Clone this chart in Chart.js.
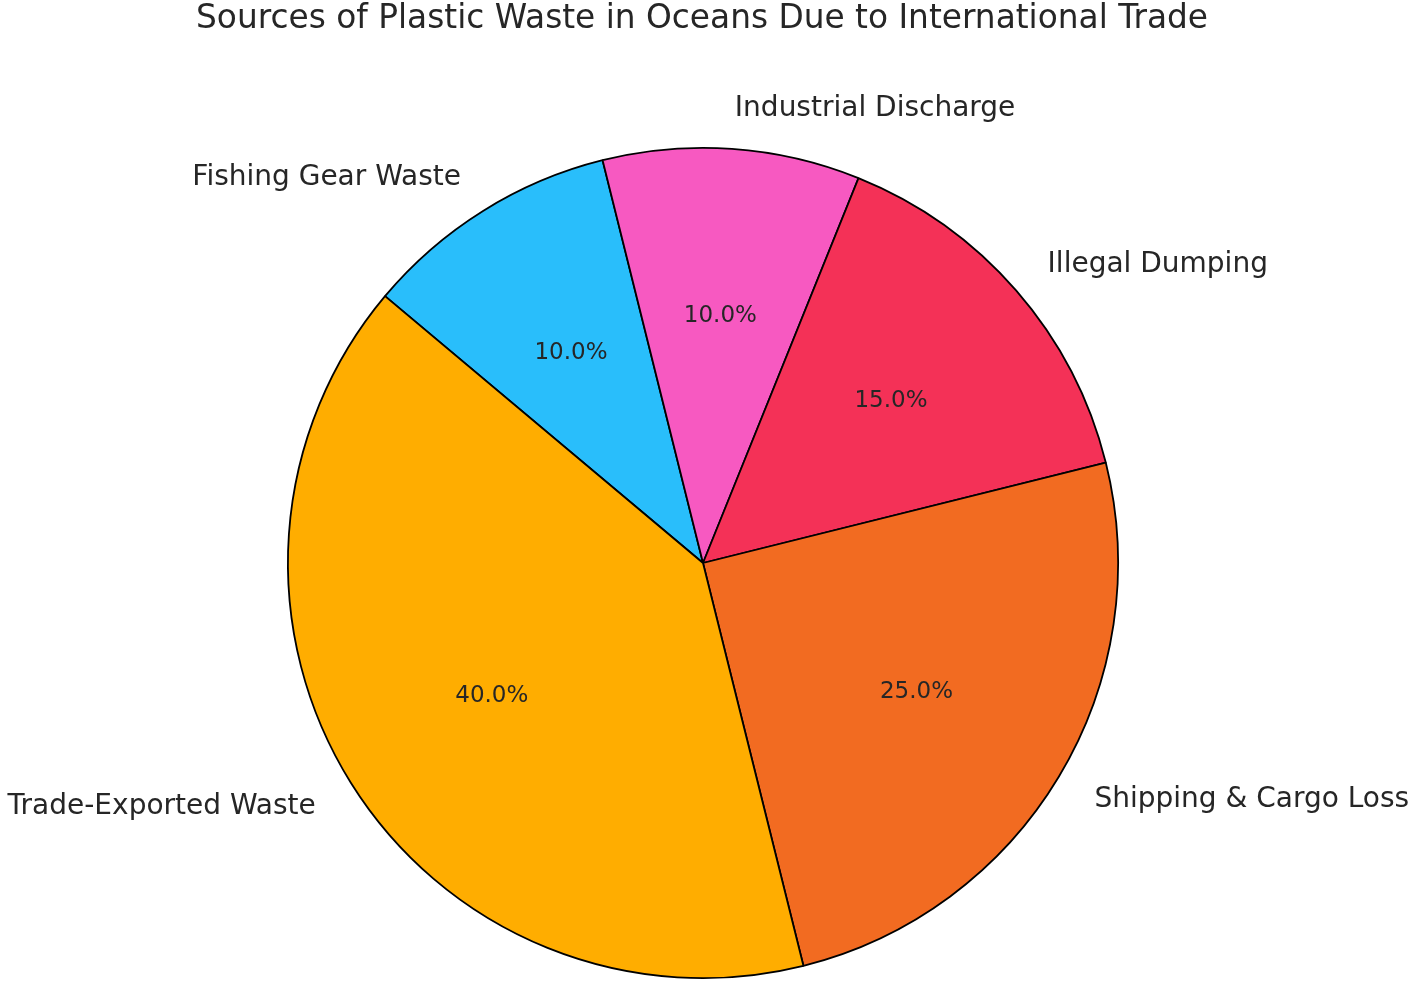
<!DOCTYPE html>
<html>
<head>
<meta charset="utf-8">
<script src="https://cdn.jsdelivr.net/npm/chart.js@4/dist/chart.umd.min.js"></script>
<style>
html,body{margin:0;padding:0;background:#fff;}
canvas{display:block;}
</style>
</head>
<body>
<canvas id="c" width="1417" height="987"></canvas>
<script>
// Categories in clockwise drawing order (starting at the Fishing/Trade boundary)
const categories = ['Fishing Gear Waste', 'Industrial Discharge', 'Illegal Dumping', 'Shipping & Cargo Loss', 'Trade-Exported Waste'];
const shares = [10, 10, 15, 25, 40];
const colors = ['#29BEFB', '#F759C1', '#F43157', '#F26B21', '#FFAD00'];
const chartTitle = 'Sources of Plastic Waste in Oceans Due to International Trade';

const labelPlugin = {
  id: 'pieLabels',
  afterDatasetsDraw(chart) {
    const ctx = chart.ctx;
    const meta = chart.getDatasetMeta(0);
    const total = shares.reduce((a, b) => a + b, 0);
    ctx.save();
    meta.data.forEach((arc, i) => {
      const mid = (arc.startAngle + arc.endAngle) / 2;
      const r = arc.outerRadius;
      const cx = arc.x, cy = arc.y;
      const c = Math.cos(mid), s = Math.sin(mid);
      // outside label
      ctx.font = '28px "DejaVu Sans"';
      ctx.fillStyle = '#262626';
      ctx.textBaseline = 'middle';
      ctx.textAlign = c < 0 ? 'right' : 'left';
      ctx.fillText(categories[i], cx + 1.1 * r * c, cy + 1.1 * r * s + 1.5);
      // percent label
      ctx.font = '23px "DejaVu Sans"';
      ctx.textAlign = 'center';
      ctx.fillText((shares[i] / total * 100).toFixed(1) + '%', cx + 0.6 * r * c, cy + 0.6 * r * s + 1);
    });
    // title
    ctx.font = '32.8px "DejaVu Sans"';
    ctx.fillStyle = '#262626';
    ctx.textAlign = 'center';
    ctx.textBaseline = 'middle';
    ctx.fillText(chartTitle, 702, 19);
    ctx.restore();
  }
};

new Chart(document.getElementById('c'), {
  type: 'pie',
  data: {
    labels: categories,
    datasets: [{
      data: shares,
      backgroundColor: colors,
      borderColor: '#000',
      borderWidth: 1.8
    }]
  },
  options: {
    responsive: false,
    animation: false,
    rotation: -50,
    layout: { padding: { top: 147, bottom: 8, left: 287, right: 298 } },
    plugins: { legend: { display: false }, tooltip: { enabled: false }, title: { display: false } }
  },
  plugins: [labelPlugin]
});
</script>
</body>
</html>
